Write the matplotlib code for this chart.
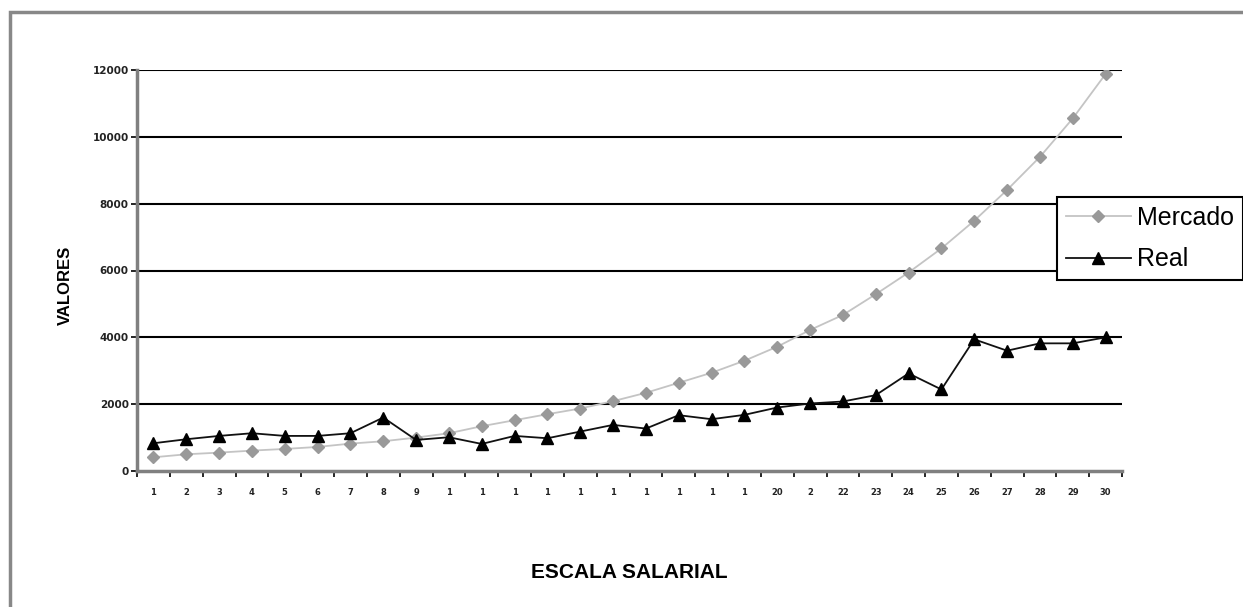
import matplotlib
matplotlib.use("Agg")
import matplotlib.pyplot as plt
from matplotlib.patches import Rectangle
import numpy as np

# ---- data ----
tick_labels = ['1', '2', '3', '4', '5', '6', '7', '8', '9', '1', '1', '1', '1', '1', '1',
               '1', '1', '1', '1', '20', '2', '22', '23', '24', '25', '26', '27', '28', '29', '30']
mercado = [410, 500, 550, 610, 660, 720, 820, 890, 1000, 1130,
           1340, 1520, 1700, 1870, 2090, 2340, 2640, 2940, 3300, 3720,
           4220, 4670, 5290, 5940, 6660, 7490, 8410, 9400, 10550, 11880]
real = [830, 950, 1050, 1130, 1050, 1050, 1130, 1600, 930, 1010,
        810, 1050, 980, 1180, 1380, 1270, 1670, 1550, 1680, 1900,
        2020, 2080, 2270, 2920, 2440, 3940, 3600, 3820, 3820, 4000]
y_ticks = [0, 2000, 4000, 6000, 8000, 10000, 12000]
series_names = ['Mercado', 'Real']
x_title = 'ESCALA SALARIAL'
y_title = 'VALORES'

W, H = 1243, 607
fig = plt.figure(figsize=(W / 100, H / 100), dpi=100)
fig.patch.set_facecolor('white')

# outer frame (only top and left visible in the reference)
fig.patches.append(Rectangle((10 / W, -0.2), 2.0, (H - 12) / H + 0.2,
                             transform=fig.transFigure, fill=False,
                             edgecolor='#888888', linewidth=2.5, zorder=0))

ax = fig.add_axes([137 / W, 1 - 471 / H, (1122 - 137) / W, (471 - 70) / H])
n = len(mercado)
x = np.arange(n) + 0.5

ax.set_xlim(0, n)
ax.set_ylim(0, 12000)

for v in y_ticks[1:]:
    ax.axhline(v, color='black', linewidth=1.5, zorder=1)

l1, = ax.plot(x, mercado, color='#c4c4c4', linewidth=1.3, marker='D',
              markersize=6, markerfacecolor='#999999', markeredgecolor='#999999',
              zorder=3, label=series_names[0])
l2, = ax.plot(x, real, color='#111111', linewidth=1.3, marker='^',
              markersize=9, markerfacecolor='black', markeredgecolor='black',
              zorder=4, label=series_names[1])

for s in ['top', 'right']:
    ax.spines[s].set_visible(False)
for s in ['left', 'bottom']:
    ax.spines[s].set_color('#808080')
    ax.spines[s].set_linewidth(2.5)

ax.set_yticks(y_ticks)
ax.set_yticklabels([str(v) for v in y_ticks], fontfamily='DejaVu Sans',
                   fontweight='bold', fontsize=7.5, color='#222222')
ax.tick_params(axis='y', direction='out', length=4, width=1.2, color='black', pad=2)

ax.set_xticks(x)
ax.set_xticklabels(tick_labels, fontfamily='DejaVu Sans', fontweight='bold',
                   fontsize=6, color='#222222')
ax.set_xticks(np.arange(n + 1), minor=True)
ax.tick_params(axis='x', which='major', length=0, pad=12)
ax.tick_params(axis='x', which='minor', direction='out', length=4, width=1.2, color='black')

ax.set_xlabel(x_title, fontfamily='Liberation Sans', fontweight='bold', fontsize=15,
              va='center', ha='center')
ax.xaxis.set_label_coords(0.4995, (471 - 573) / 401)
ax.set_ylabel(y_title, fontfamily='Liberation Sans', fontweight='bold', fontsize=12,
              va='center', ha='center')
ax.yaxis.set_label_coords((65 - 137) / 985, (471 - 285) / 401)

leg = fig.legend(handles=[l1, l2], labels=series_names, loc='upper left',
                 bbox_to_anchor=(1057 / W, 1 - 197 / H), borderaxespad=0,
                 prop={'family': 'Liberation Sans', 'size': 18},
                 frameon=True, fancybox=False, framealpha=1, edgecolor='black',
                 handlelength=2.6, handletextpad=0.25, borderpad=0.35,
                 labelspacing=0.7, numpoints=1)
leg.get_frame().set_linewidth(1.5)

fig.savefig('out.png', dpi=100)
